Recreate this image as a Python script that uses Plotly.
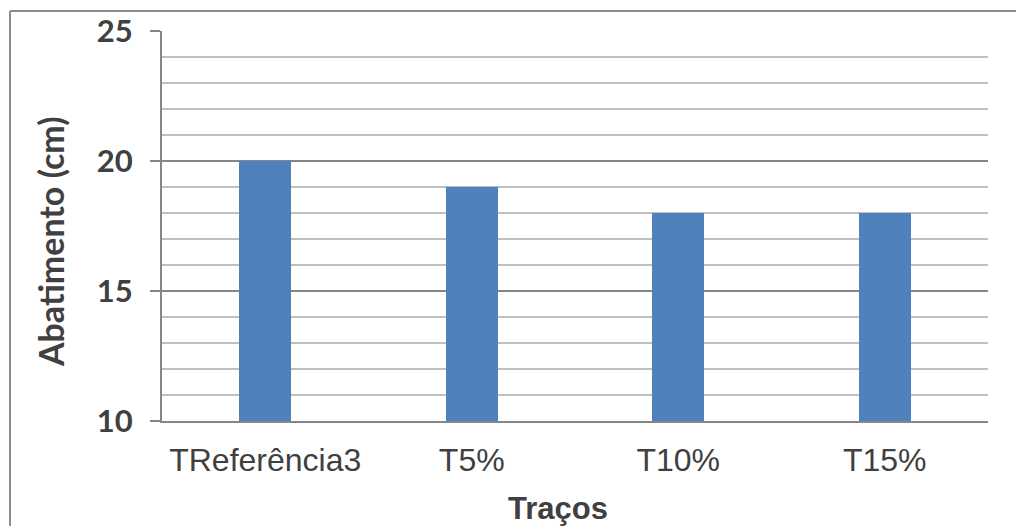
import plotly.graph_objects as go

# Slump test results per mix
categories = ["TReferência3", "T5%", "T10%", "T15%"]
slump_cm = [20, 19, 18, 18]
y_ticks = [10, 15, 20, 25]

W, H = 1016, 526
L, R, T, B = 162, 28, 31, 105
pw, ph = W - L - R, H - T - B

fig = go.Figure(
    go.Bar(
        x=categories,
        y=slump_cm,
        marker=dict(color="#4F81BD", line=dict(width=0)),
        width=0.252,
    )
)

fig.update_layout(
    width=W,
    height=H,
    margin=dict(l=L, r=R, t=T, b=B),
    paper_bgcolor="white",
    plot_bgcolor="white",
    showlegend=False,
    bargap=0,
    xaxis=dict(
        showgrid=False,
        showline=True,
        linecolor="#868686",
        linewidth=2,
        ticks="",
        tickfont=dict(family="Liberation Sans, Arial", size=32, color="#404040"),
        ticklabelstandoff=10,
    ),
    yaxis=dict(
        range=[10, 25],
        tickvals=y_ticks,
        showgrid=True,
        gridcolor="#868686",
        gridwidth=2,
        showline=True,
        linecolor="#868686",
        linewidth=2,
        ticks="outside",
        ticklen=10,
        tickcolor="#868686",
        tickwidth=2,
        tickfont=dict(family="Lato", size=31, color="#404040", weight="bold"),
        ticklabelstandoff=11,
        zeroline=False,
        minor=dict(dtick=1, showgrid=True, gridcolor="#bfbfbf", gridwidth=2, ticks=""),
    ),
)

# Axis titles
fig.add_annotation(
    text="Abatimento (cm)",
    xref="paper", yref="paper",
    x=(50 - L) / pw, y=(H - B - 242) / ph,
    xanchor="center", yanchor="middle",
    textangle=-90, showarrow=False,
    font=dict(family="Lato", size=34, color="#404040", weight="bold"),
)
fig.add_annotation(
    text="Traços",
    xref="paper", yref="paper",
    x=(558 - L) / pw, y=(H - B - 508) / ph,
    xanchor="center", yanchor="middle",
    showarrow=False,
    font=dict(family="Liberation Sans, Arial", size=31, color="#404040", weight="bold"),
)

# Chart-area border (left and top edges)
bx0 = (10 - L) / pw
by0 = (H - B - 11) / ph
fig.add_shape(type="line", xref="paper", yref="paper",
              x0=bx0, x1=bx0, y0=by0, y1=-0.5,
              line=dict(color="#8c8c8c", width=2))
fig.add_shape(type="line", xref="paper", yref="paper",
              x0=bx0, x1=1.2, y0=by0, y1=by0,
              line=dict(color="#8c8c8c", width=2))

fig.write_html("out.html")
